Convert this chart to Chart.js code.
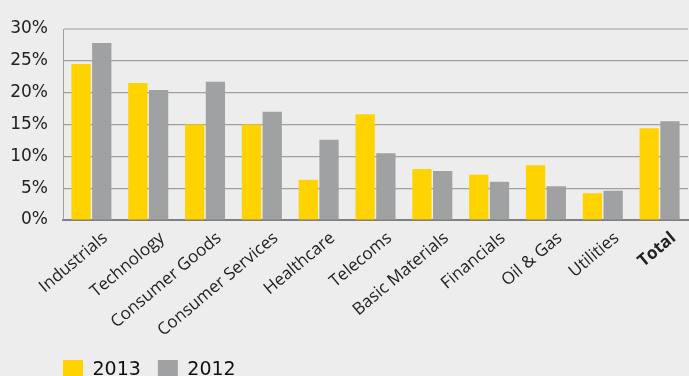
<!DOCTYPE html>
<html>
<head>
<meta charset="utf-8">
<script src="https://cdn.jsdelivr.net/npm/chart.js@4.4.1/dist/chart.umd.min.js"></script>
<style>
  html, body { margin: 0; padding: 0; background: #ecedec; overflow: hidden; }
  #wrap { width: 689px; height: 390px; position: relative; }
</style>
</head>
<body>
<div id="wrap"><canvas id="chart"></canvas></div>
<script>
const sectors = ['Industrials', 'Technology', 'Consumer Goods', 'Consumer Services', 'Healthcare',
    'Telecoms', 'Basic Materials', 'Financials', 'Oil & Gas', 'Utilities', 'Total'];
const values2013 = [24.5, 21.5, 15.0, 15.0, 6.3, 16.6, 8.0, 7.1, 8.6, 4.2, 14.4];
const values2012 = [27.8, 20.4, 21.7, 17.0, 12.6, 10.5, 7.7, 6.0, 5.3, 4.6, 15.5];
const yMax = 30;
const yStep = 5;

// move the legend so its first box lines up with the plot's left edge
const legendShift = {
    id: 'legendShift',
    afterLayout(chart) {
        const lg = chart.legend;
        const dx = chart.chartArea.left - 17 - lg.left;
        lg.left += dx;
        lg.right += dx;
    }
};

const ctx = document.getElementById('chart').getContext('2d');
new Chart(ctx, {
    type: 'bar',
    data: {
        labels: sectors,
        datasets: [
            { label: '2013', data: values2013, backgroundColor: '#ffd300' },
            { label: '2012', data: values2012, backgroundColor: '#a0a1a2' }
        ]
    },
    options: {
        responsive: true,
        maintainAspectRatio: false,
        animation: false,
        categoryPercentage: 0.73,
        barPercentage: 0.93,
        layout: { padding: { left: 8, right: 1, top: 29, bottom: 0 } },
        scales: {
            x: {
                grid: { display: false },
                border: { display: true, color: '#808080', width: 2 },
                afterFit: (scale) => { scale.height = 123; },
                ticks: {
                    color: '#222',
                    maxRotation: 40,
                    minRotation: 40,
                    autoSkip: false,
                    labelOffset: 14,
                    padding: 0,
                    font: (c) => ({
                        family: 'Open Sans',
                        size: 17,
                        weight: c.index === sectors.length - 1 ? 'bold' : 'normal'
                    })
                }
            },
            y: {
                min: 0,
                max: yMax,
                afterFit: (scale) => { scale.width = 55; },
                border: { display: true, color: '#a0a0a0', width: 1 },
                grid: {
                    drawTicks: false,
                    color: (c) => c.tick.value === yMax ? '#c6c6c6' : '#a0a0a0',
                    lineWidth: (c) => c.tick.value === yMax ? 2 : 1.2
                },
                ticks: {
                    stepSize: yStep,
                    color: '#222',
                    padding: 15,
                    font: { family: 'DejaVu Sans', size: 17 },
                    callback: (v) => v + '%'
                }
            }
        },
        plugins: {
            tooltip: { enabled: false },
            legend: {
                position: 'bottom',
                align: 'start',
                labels: {
                    color: '#111',
                    boxWidth: 20,
                    boxHeight: 20,
                    padding: 17,
                    font: { family: 'DejaVu Sans', size: 19 }
                }
            }
        }
    },
    plugins: [legendShift]
});
</script>
</body>
</html>
